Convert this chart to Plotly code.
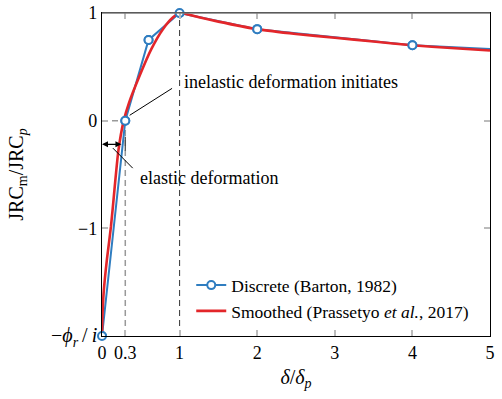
import plotly.graph_objects as go

# Discrete (Barton, 1982)
disc_x = [0, 0.3, 0.6, 1, 2, 4, 10]
disc_y = [-2, 0, 0.75, 1, 0.85, 0.70, 0.5]

# Smoothed (Prassetyo et al., 2017)
smooth_x = [0, 0.004, 0.022, 0.065, 0.116, 0.16, 0.212, 0.28, 0.35, 0.486, 0.637,
            0.787, 0.916, 1, 1.25, 1.5, 2, 2.5, 3, 3.5, 4, 4.5, 5]
smooth_y = [-2, -1.85, -1.59, -1.28, -0.98, -0.645, -0.274, 0, 0.17, 0.42, 0.667,
            0.852, 0.96, 1, 0.96, 0.92, 0.85, 0.805, 0.77, 0.735, 0.70, 0.675, 0.652]

x_ticks = [0, 0.3, 1, 2, 3, 4, 5]
x_ticktext = ["0", "0.3", "1", "2", "3", "4", "5"]
y_ticks = [-2, -1, 0, 1]
y_ticktext = ["<span style='font-size:20px'>−<i>ϕ<sub>r</sub></i>\u2009/\u2009<i>i</i></span>", "−1", "0", "1"]

elastic_limit = 0.3
peak = 1
y_min, y_max = -2, 1
x_min, x_max = 0, 5
arrow_y = -0.22

BLUE = "#2f7dc0"
RED = "#e3262a"
FONT = "Liberation Serif, Times New Roman, DejaVu Serif, serif"
FS = 18

fig = go.Figure()

fig.add_trace(go.Scatter(
    x=disc_x, y=disc_y, mode="lines+markers",
    name="Discrete (Barton, 1982)",
    line=dict(color=BLUE, width=2),
    marker=dict(symbol="circle", size=8, color="white", line=dict(color=BLUE, width=2)),
))
fig.add_trace(go.Scatter(
    x=smooth_x, y=smooth_y, mode="lines",
    name="Smoothed (Prassetyo <i>et al.</i>, 2017)",
    line=dict(color=RED, width=2.6, shape="spline", smoothing=0.6),
))
mx = [x for x in disc_x if x <= x_max]
my = [y for x, y in zip(disc_x, disc_y) if x <= x_max]
fig.add_trace(go.Scatter(
    x=mx, y=my, mode="markers", showlegend=False, cliponaxis=False,
    marker=dict(symbol="circle", size=8, color="white", line=dict(color=BLUE, width=2)),
))

shapes = [
    dict(type="line", xref="x", yref="y", x0=elastic_limit, x1=elastic_limit, y0=y_min, y1=0,
         line=dict(color="#999999", width=1.5, dash="6px,4px"), layer="below"),
    dict(type="line", xref="x", yref="y", x0=x_min, x1=elastic_limit, y0=0, y1=0,
         line=dict(color="#999999", width=1.5, dash="6px,4px"), layer="below"),
    dict(type="line", xref="x", yref="y", x0=peak, x1=peak, y0=y_min, y1=y_max,
         line=dict(color="#333333", width=1, dash="6px,4px"), layer="below"),
    dict(type="line", xref="x", yref="y", x0=elastic_limit, x1=elastic_limit, y0=-0.15, y1=-0.28,
         line=dict(color="#444444", width=1.2)),
    dict(type="line", xref="x", yref="y", x0=0.357, x1=0.903, y0=0.05, y1=0.30,
         line=dict(color="black", width=1)),
    dict(type="line", xref="x", yref="y", x0=0.14, x1=0.396, y0=-0.255, y1=-0.441,
         line=dict(color="black", width=1)),
    dict(type="line", xref="paper", yref="paper", x0=0, x1=1, y0=1, y1=1,
         line=dict(color="#7a7a7a", width=1.5)),
]

annotations = [
    dict(x=x_min, y=arrow_y, ax=0.27, ay=arrow_y, xref="x", yref="y", axref="x", ayref="y",
         showarrow=True, arrowhead=2, startarrowhead=2, arrowside="end+start",
         arrowsize=1, arrowwidth=1.2, arrowcolor="black", text=""),
    dict(x=1.03, y=0.357, xref="x", yref="y", text="inelastic deformation initiates",
         showarrow=False, xanchor="left", yanchor="middle",
         font=dict(family=FONT, size=FS, color="black")),
    dict(x=0.46, y=-0.534, xref="x", yref="y", text="elastic deformation",
         showarrow=False, xanchor="left", yanchor="middle",
         font=dict(family=FONT, size=FS, color="black")),
]

fig.update_layout(
    width=502, height=399,
    margin=dict(l=102, r=12, t=13, b=63, autoexpand=False),
    paper_bgcolor="white", plot_bgcolor="white",
    font=dict(family=FONT, size=FS, color="black"),
    shapes=shapes, annotations=annotations,
    showlegend=True,
    legend=dict(x=0.23, y=0.021, xanchor="left", yanchor="bottom",
                bgcolor="rgba(0,0,0,0)", borderwidth=0,
                font=dict(family=FONT, size=17.5, color="black")),
    xaxis=dict(range=[x_min, x_max], tickvals=x_ticks, ticktext=x_ticktext,
               showgrid=False, zeroline=False, showline=True, linecolor="black", linewidth=1.3,
               mirror="ticks", ticks="inside", ticklen=6, tickcolor="#bbbbbb", tickwidth=1.5,
               automargin=False, ticklabeloverflow="allow",
               tickfont=dict(family=FONT, size=FS),
               title=dict(text="<i>δ</i>/<i>δ<sub>p</sub></i>", font=dict(family=FONT, size=20), standoff=8)),
    yaxis=dict(range=[y_min, y_max], tickvals=y_ticks, ticktext=y_ticktext,
               showgrid=False, zeroline=False, showline=True, linecolor="black", linewidth=1.3,
               mirror="ticks", ticks="inside", ticklen=6, tickcolor="#bbbbbb", tickwidth=1.5,
               automargin=False, ticklabeloverflow="allow",
               tickfont=dict(family=FONT, size=FS),
               title=dict(text="JRC<sub>m</sub>/JRC<sub><i>p</i></sub>", font=dict(family=FONT, size=20), standoff=22)),
)

fig.write_html("out.html", config={"displayModeBar": False},
               post_script="document.body.style.margin='0px';")
